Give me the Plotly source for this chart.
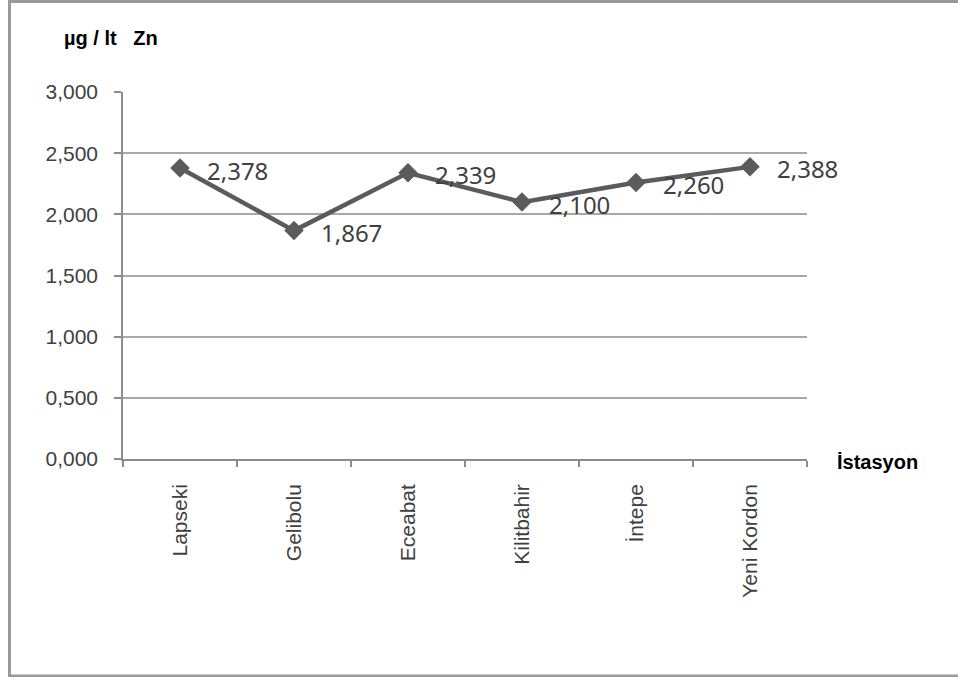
import plotly.graph_objects as go

# Zn concentration per sampling station
stations = ["Lapseki", "Gelibolu", "Eceabat", "Kilitbahir", "İntepe", "Yeni Kordon"]
zn_values = [2.378, 1.867, 2.339, 2.100, 2.260, 2.388]
y_ticks = [0.0, 0.5, 1.0, 1.5, 2.0, 2.5, 3.0]

W, H = 958, 677
L, R, T, B = 123, 807, 92, 459  # plot area in pixels


def px_x(p):
    return (p - L) / (R - L)


def px_y(p):
    return (B - p) / (B - T)


line_grey = "#5b5b5b"
text_grey = "#404040"

fig = go.Figure()
fig.add_trace(go.Scatter(
    x=stations,
    y=zn_values,
    mode="lines+markers",
    line=dict(color=line_grey, width=4.5),
    marker=dict(symbol="diamond", size=15, color=line_grey),
    hoverinfo="skip",
    showlegend=False,
))

# value labels to the right of each point
annotations = []
for s, v in zip(stations, zn_values):
    annotations.append(dict(
        x=s, y=v, xref="x", yref="y",
        text=f"{v:.3f}".replace(".", ","),
        showarrow=False, xanchor="left", yanchor="middle",
        xshift=25, yshift=-2,
        font=dict(family="Noto Sans", size=24, color=text_grey),
    ))

annotations.append(dict(
    x=px_x(62), y=px_y(38), xref="paper", yref="paper",
    text="µg / lt   Zn", showarrow=False, xanchor="left", yanchor="middle",
    font=dict(family="Liberation Sans", size=20, color="#000000", weight="bold"),
))
annotations.append(dict(
    x=px_x(835), y=px_y(462), xref="paper", yref="paper",
    text="İstasyon", showarrow=False, xanchor="left", yanchor="middle",
    font=dict(family="Liberation Sans", size=20, color="#000000", weight="bold"),
))

# chart frame
shapes = [dict(
    type="rect", xref="paper", yref="paper",
    x0=px_x(9.5), x1=px_x(975), y0=px_y(676), y1=px_y(1.5),
    line=dict(color="#9a9a9a", width=3), layer="below",
)]

fig.update_layout(
    width=W, height=H,
    margin=dict(l=L, r=W - R, t=T, b=H - B),
    paper_bgcolor="white", plot_bgcolor="white",
    separators=",.",
    annotations=annotations,
    shapes=shapes,
    xaxis=dict(
        type="category",
        tickson="boundaries",
        ticks="outside", ticklen=6, tickcolor="#8c8c8c", tickwidth=1.5,
        showline=True, linecolor="#8c8c8c", linewidth=1.5,
        showgrid=False, tickangle=-90, ticklabelstandoff=15,
        tickfont=dict(family="Liberation Sans", size=21, color=text_grey),
        range=[-0.5, 5.5],
    ),
    yaxis=dict(
        range=[0, 3], tickvals=y_ticks, tickformat=".3f",
        ticks="outside", ticklen=7, tickcolor="#8c8c8c", tickwidth=1.5,
        showline=True, linecolor="#8c8c8c", linewidth=1.5,
        showgrid=True, gridcolor="#a8a8a8", gridwidth=1.5,
        zeroline=False, ticklabelstandoff=12,
        tickfont=dict(family="Liberation Sans", size=21, color=text_grey),
    ),
)

fig.write_html("out.html")
